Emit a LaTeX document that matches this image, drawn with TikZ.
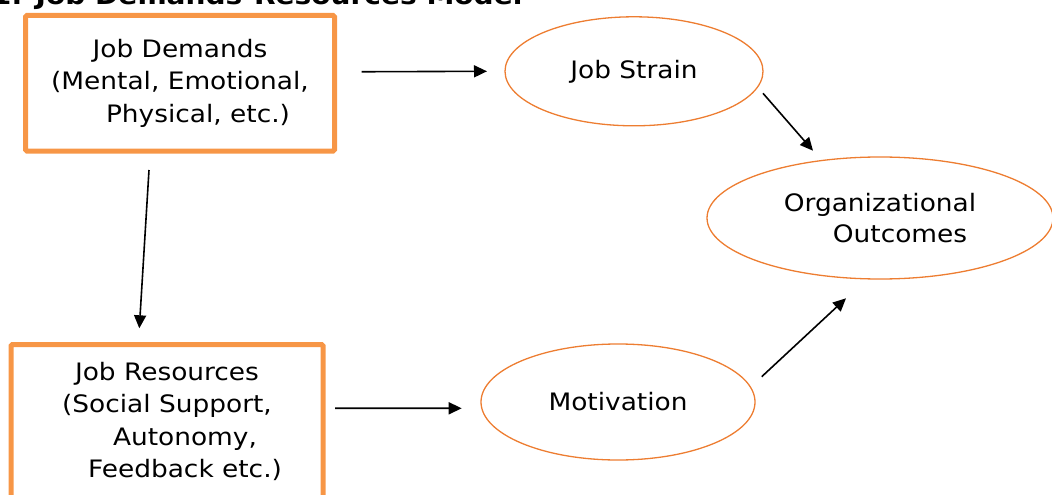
\documentclass[tikz,border=0pt]{standalone}
\usepackage{fontspec}
\setmainfont{DejaVu Sans}[FakeStretch=1.1]
\usepackage{tikz}
\usetikzlibrary{arrows.meta, shapes.geometric}
\definecolor{boxorange}{HTML}{F79646}
\definecolor{ellorange}{HTML}{ED7D31}

\begin{document}
\begin{tikzpicture}[x=1pt, y=-1pt,
  factor/.style={rectangle, rounded corners=1.5pt,
    draw=boxorange, line width=5pt, outer sep=0pt, inner sep=0pt,
    align=center, font=\fontsize{24}{32.5}\selectfont},
  result/.style={ellipse, draw=ellorange, line width=1.3pt,
    outer sep=0pt, inner sep=0pt,
    align=center, font=\fontsize{24}{31}\selectfont},
  ar/.style={-{Triangle[length=13pt, width=12pt]}, line width=1.6pt, color=black}
]
  \useasboundingbox (0,0) rectangle (1052,495);

  \node[anchor=base east, font=\bfseries\fontsize{25.5}{28}\selectfont] (title) at (526,5)
    {1: Job Demands-Resources Model};

  \node[factor, minimum width=309pt, minimum height=135.5pt] (jd) at (180,83.25)
    {Job Demands\\(Mental, Emotional,\\\hspace*{36pt}Physical, etc.)};
  \node[factor, minimum width=312pt, minimum height=153.5pt] (jr) at (167,421.25)
    {Job Resources\\(Social Support,\\\hspace*{36pt}Autonomy,\\\hspace*{36pt}Feedback etc.)};

  \node[result, minimum width=258pt, minimum height=109pt] (js) at (634,71.3) {Job Strain};
  \node[result, minimum width=274pt, minimum height=116pt] (mo) at (618,402) {Motivation};
  \node[result, minimum width=346pt, minimum height=122pt] (oo) at (880,218)
    {Organizational\\\hspace*{40pt}Outcomes};

  \draw[ar] ([shift={(27,-11.5)}]jd.east) -- ([shift={(-18,0)}]js.west);
  \draw[ar] ([shift={(-31,19)}]jd.south) -- ([shift={(-27.7,-16.2)}]jr.north);
  \draw[ar] ([shift={(12,-13)}]jr.east) -- ([shift={(-19.3,6.3)}]mo.west);
  \draw[ar] ([shift={(0,22)}]js.east) -- ([shift={(-67,-6.3)}]oo.north);
  \draw[ar] ([shift={(6.7,-25.3)}]mo.east) -- ([shift={(-34,19.3)}]oo.south);
\end{tikzpicture}
\end{document}
